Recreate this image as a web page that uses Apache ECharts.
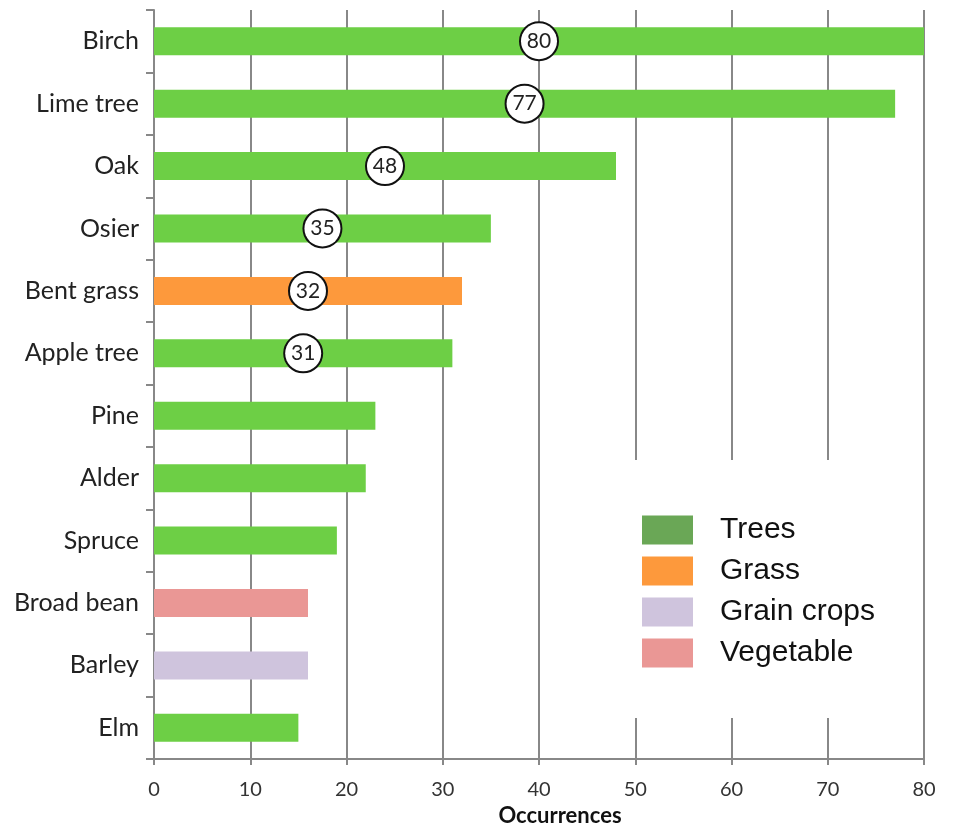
<!DOCTYPE html>
<html>
<head>
<meta charset="utf-8">
<script src="https://cdn.jsdelivr.net/npm/echarts@6/dist/echarts.min.js"></script>
<style>html,body{margin:0;padding:0;background:#fff}#c{width:960px;height:825px}</style>
</head>
<body>
<div id="c"></div>
<script>
const categories = ['Birch','Lime tree','Oak','Osier','Bent grass','Apple tree','Pine','Alder','Spruce','Broad bean','Barley','Elm'];
const values = [80,77,48,35,32,31,23,22,19,16,16,15];
const groups = ['Trees','Trees','Trees','Trees','Grass','Trees','Trees','Trees','Trees','Vegetable','Grain crops','Trees'];
const groupNames = ['Trees','Grass','Grain crops','Vegetable'];
const barColors = {'Trees':'#6dcf45','Grass':'#fd993c','Grain crops':'#cfc4dd','Vegetable':'#ea9795'};
const legendColors = {'Trees':'#6aa756','Grass':'#fd993c','Grain crops':'#cfc4dd','Vegetable':'#ea9795'};
const xTicks = [0,10,20,30,40,50,60,70,80];
const labelThreshold = 30;

const chart = echarts.init(document.getElementById('c'));
const FONT = 'Lato';

const series = groupNames.map(g => ({
  name: g,
  type: 'bar',
  stack: 'all',
  barWidth: 28,
  itemStyle: { color: barColors[g] },
  data: values.map((v, i) => {
    if (groups[i] !== g) return '-';
    return {
      value: v,
      label: {
        show: v >= labelThreshold,
        position: 'inside',
        formatter: '{c}',
        color: '#222',
        fontFamily: FONT,
        fontSize: 21,
        backgroundColor: '#fff',
        borderColor: '#111',
        borderWidth: 2,
        borderRadius: 19,
        width: 36,
        height: 36,
        lineHeight: 36,
        align: 'center',
        verticalAlign: 'middle',
        padding: 0
      }
    };
  })
}));

chart.setOption({
  animation: false,
  backgroundColor: '#fff',
  grid: { left: 154, right: 36, top: 10, bottom: 66, containLabel: false, outerBoundsMode: 'none' },
  legend: {
    data: groupNames.map(g => ({ name: g, itemStyle: { color: legendColors[g] } })),
    orient: 'vertical',
    left: 600,
    top: 460,
    padding: [55, 40, 50, 42],
    backgroundColor: '#fff',
    itemWidth: 51,
    itemHeight: 29,
    itemGap: 11,
    selectedMode: false,
    icon: 'rect',
    textStyle: { fontFamily: 'Liberation Sans', fontSize: 30, lineHeight: 29, color: '#111', padding: [0, 0, 0, 22] }
  },
  xAxis: {
    type: 'value',
    min: 0,
    max: 80,
    interval: 10,
    name: 'Occurrences',
    nameLocation: 'middle',
    nameGap: 41,
    nameTextStyle: { fontFamily: FONT, fontWeight: 'bold', fontSize: 22, color: '#111', padding: [0, 0, 0, 42] },
    axisLine: { show: true, lineStyle: { color: '#888', width: 2 } },
    axisTick: { show: true, length: 6, lineStyle: { color: '#888', width: 2 } },
    axisLabel: { fontFamily: FONT, fontSize: 20, color: '#333', margin: 21,
      formatter: v => xTicks.includes(v) ? String(v) : '' },
    splitLine: { show: true, lineStyle: { color: '#888', width: 2 } }
  },
  yAxis: {
    type: 'category',
    data: categories,
    inverse: true,
    axisLine: { show: true, lineStyle: { color: '#888', width: 2 } },
    axisTick: { show: true, length: 8, inside: false, lineStyle: { color: '#888', width: 2 } },
    axisLabel: { fontFamily: FONT, fontSize: 25, color: '#222', margin: 15 },
    splitLine: { show: false }
  },
  series: series
});
</script>
</body>
</html>
